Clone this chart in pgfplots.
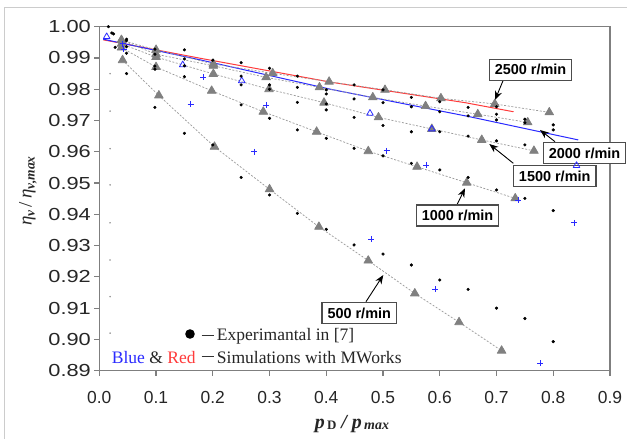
\documentclass[border=0pt]{standalone}
\usepackage{pgfplots}
\pgfplotsset{compat=1.18}
\usepackage{graphicx}
\usepackage{fontspec}
\setmainfont{Liberation Serif}
\newfontfamily\arial{Liberation Sans}
\usetikzlibrary{arrows.meta}
\definecolor{axgray}{HTML}{7F7F7F}
\definecolor{trigray}{HTML}{808080}
\definecolor{dotline}{HTML}{9A9A9A}
\definecolor{simblue}{HTML}{2A2AFF}
\definecolor{simred}{HTML}{FF3B3B}
\begin{document}
\begin{tikzpicture}
\useasboundingbox (0bp,0bp) rectangle (627bp,439bp);
\fill[white] (0bp,0bp) rectangle (627bp,439bp);
\draw[black!20, line width=0.8bp] (4bp,0bp) -- (4bp,432bp) -- (627bp,432bp);
\begin{axis}[
  at={(99.3bp,68.3bp)}, anchor=south west,
  width=510.7bp, height=344bp, scale only axis,
  xmin=0, xmax=0.9, ymin=0.89, ymax=1.0,
  clip=false,
  axis line style={axgray, line width=1.2bp},
  tick style={axgray, line width=1.2bp},
  major tick length=5bp, tick align=outside,
  xtick pos=left, ytick pos=left,
  xtick={0,0.1,0.2,0.3,0.4,0.5,0.6,0.7,0.8,0.9},
  ytick={0.89,0.90,0.91,0.92,0.93,0.94,0.95,0.96,0.97,0.98,0.99,1.00},
  xticklabels={}, yticklabels={},
  every axis plot/.append style={line join=round},
]
% simulation lines
\addplot[simred, line width=1bp, no marks] coordinates {(0.007,0.9958) (0.178,0.9899) (0.41,0.9822) (0.645,0.9757) (0.73,0.9728)};
\addplot[simblue, line width=1bp, no marks] coordinates {(0.007,0.9960) (0.1775,0.9894) (0.41,0.9799) (0.653,0.9712) (0.844,0.9638)};
% gray triangles with dotted lines
\pgfplotsset{tri/.style={dotline, line width=0.7bp, dash pattern=on 2bp off 1.6bp, mark=triangle*, mark size=5bp, mark options={solid, fill=trigray, draw=trigray}}}
\addplot[tri] coordinates {(0.039,0.9957) (0.100,0.9926) (0.201,0.9881) (0.3056,0.9851) (0.405,0.9824) (0.5035,0.9798) (0.602,0.9771) (0.697,0.9753) (0.793,0.9726)};
\addplot[tri] coordinates {(0.039,0.9957) (0.100,0.9912) (0.201,0.9875) (0.294,0.9838) (0.388,0.9806) (0.482,0.9774) (0.575,0.9746) (0.667,0.9720) (0.755,0.9694)};
\addplot[tri] coordinates {(0.039,0.9945) (0.100,0.9903) (0.201,0.9849) (0.299,0.9800) (0.396,0.9757) (0.492,0.9710) (0.586,0.9673) (0.674,0.9638) (0.766,0.9603)};
\addplot[tri] coordinates {(0.039,0.9933) (0.100,0.9871) (0.198,0.9795) (0.289,0.9728) (0.383,0.9664) (0.474,0.9602) (0.560,0.9552) (0.6475,0.9501) (0.733,0.9451)};
\addplot[tri] coordinates {(0.041,0.9893) (0.105,0.9780) (0.203,0.9616) (0.300,0.9480) (0.387,0.9360) (0.474,0.9252) (0.556,0.9147) (0.634,0.9055) (0.709,0.8964)};
% blue simulation markers
\addplot[only marks, simblue, mark=triangle, mark size=3.8bp, mark options={line width=0.8bp}] coordinates {(0.013,0.9968) (0.147,0.9878) (0.251,0.9827) (0.477,0.9723) (0.586,0.9673) (0.841,0.9556)};
\addplot[only marks, simblue, mark=+, mark size=3bp, mark options={line width=0.8bp}] coordinates {(0.041,0.9945) (0.043,0.9928) (0.161,0.9753) (0.183,0.9838) (0.273,0.9600) (0.294,0.9749) (0.479,0.9320) (0.5065,0.9603) (0.576,0.9558) (0.592,0.9160) (0.738,0.9446) (0.777,0.8924) (0.837,0.9373)};
% experimental black dots
\addplot[only marks, black, mark=*, mark size=1.4bp] coordinates {
(0.016,1.000) (0.022,0.998) (0.025,0.9977) (0.028,0.9934)
(0.048,0.996) (0.048,0.9955) (0.048,0.9936) (0.048,0.9915) (0.048,0.985)
(0.098,0.9928) (0.098,0.9912) (0.098,0.9874) (0.098,0.9864) (0.098,0.9742)
(0.150,0.9926) (0.150,0.9897) (0.150,0.9875) (0.150,0.9840) (0.150,0.9659)
(0.200,0.9893) (0.200,0.9622)
(0.250,0.9885) (0.250,0.9842) (0.250,0.9814) (0.250,0.9750) (0.250,0.9518)
(0.300,0.9867) (0.300,0.9814) (0.300,0.9800) (0.300,0.9707) (0.300,0.9462)
(0.349,0.9842) (0.349,0.9806) (0.349,0.9758) (0.349,0.9670) (0.349,0.9403)
(0.400,0.9798) (0.400,0.9785) (0.400,0.9753) (0.400,0.9734) (0.400,0.9643) (0.400,0.9352)
(0.449,0.9814) (0.449,0.9769) (0.449,0.9710) (0.449,0.9611) (0.449,0.9302)
(0.500,0.9798) (0.500,0.9757) (0.500,0.9684) (0.500,0.9587) (0.500,0.9273)
(0.550,0.9774) (0.550,0.9744) (0.550,0.9664) (0.550,0.9563) (0.550,0.9238)
(0.600,0.9760) (0.600,0.9728) (0.600,0.9664) (0.600,0.9542) (0.600,0.9190)
(0.650,0.9742) (0.650,0.9715) (0.650,0.9650) (0.650,0.9518) (0.650,0.9160)
(0.700,0.9744) (0.700,0.9720) (0.700,0.9702) (0.700,0.9635) (0.700,0.9478) (0.700,0.9100)
(0.750,0.9704) (0.750,0.9693) (0.750,0.9622) (0.750,0.9451) (0.750,0.9067)
(0.800,0.9686) (0.800,0.9670) (0.800,0.9412) (0.800,0.8993)
};
% faint tiny dots
\addplot[only marks, black!40, mark=*, mark size=0.6bp] coordinates {(0.019,0.985) (0.019,0.973) (0.019,0.961) (0.019,0.9494) (0.019,0.9373) (0.019,0.9254) (0.019,0.9137) (0.019,0.902)};
% tick labels
\tikzset{xtl/.style={anchor=center, inner sep=0pt, yshift=-27bp, text=black!85, font=\arial\fontsize{17.5}{18}\selectfont},
ytl/.style={anchor=east, inner sep=0pt, xshift=-8.3bp, text=black!85, font=\arial\fontsize{17.5}{18}\selectfont}}
\node[xtl] at (axis cs:0.0,0.89) {0.0};
\node[xtl] at (axis cs:0.1,0.89) {0.1};
\node[xtl] at (axis cs:0.2,0.89) {0.2};
\node[xtl] at (axis cs:0.3,0.89) {0.3};
\node[xtl] at (axis cs:0.4,0.89) {0.4};
\node[xtl] at (axis cs:0.5,0.89) {0.5};
\node[xtl] at (axis cs:0.6,0.89) {0.6};
\node[xtl] at (axis cs:0.7,0.89) {0.7};
\node[xtl] at (axis cs:0.8,0.89) {0.8};
\node[xtl] at (axis cs:0.9,0.89) {0.9};
\node[ytl] at (axis cs:0,0.89) {\scalebox{1.25}[1]{0.89}};
\node[ytl] at (axis cs:0,0.90) {\scalebox{1.25}[1]{0.90}};
\node[ytl] at (axis cs:0,0.91) {\scalebox{1.25}[1]{0.91}};
\node[ytl] at (axis cs:0,0.92) {\scalebox{1.25}[1]{0.92}};
\node[ytl] at (axis cs:0,0.93) {\scalebox{1.25}[1]{0.93}};
\node[ytl] at (axis cs:0,0.94) {\scalebox{1.25}[1]{0.94}};
\node[ytl] at (axis cs:0,0.95) {\scalebox{1.25}[1]{0.95}};
\node[ytl] at (axis cs:0,0.96) {\scalebox{1.25}[1]{0.96}};
\node[ytl] at (axis cs:0,0.97) {\scalebox{1.25}[1]{0.97}};
\node[ytl] at (axis cs:0,0.98) {\scalebox{1.25}[1]{0.98}};
\node[ytl] at (axis cs:0,0.99) {\scalebox{1.25}[1]{0.99}};
\node[ytl] at (axis cs:0,1.00) {\scalebox{1.25}[1]{1.00}};
% annotations
\tikzset{box/.style={draw=black!70, fill=white, line width=1.2bp, font=\arial\bfseries\fontsize{14.5}{14.5}\selectfont, inner xsep=5.5bp, inner ysep=4bp, minimum height=21bp},
arr/.style={black, line width=0.9bp, -{Stealth[length=9bp,width=7bp]}}}
\draw[arr] (axis cs:0.712,0.98296) -- (axis cs:0.6974,0.97656);
\draw[arr] (axis cs:0.8031,0.96323) -- (axis cs:0.7767,0.96697);
\draw[arr] (axis cs:0.7296,0.95632) -- (axis cs:0.6873,0.96249);
\draw[arr] (axis cs:0.6310,0.94331) -- (axis cs:0.6445,0.94833);
\draw[arr] (axis cs:0.4700,0.91207) -- (axis cs:0.5005,0.9206);
\node[box] at (axis cs:0.760,0.98625) {2500 r/min};
\node[box] at (axis cs:0.8551,0.95952) {2000 r/min};
\node[box] at (axis cs:0.8026,0.95216) {1500 r/min};
\node[box] at (axis cs:0.6313,0.93963) {1000 r/min};
\node[box] at (axis cs:0.4581,0.90845) {500 r/min};
\end{axis}
% legend text
\fill[black] (190bp,105bp) circle (4.8bp);
\draw[black!80, line width=0.8bp] (201.5bp,104bp) -- (213.5bp,104bp);
\node[anchor=base west, inner sep=0pt, font=\fontsize{17.6}{20}\selectfont, text=black!85] at (216.7bp,98.3bp) {Experimantal in [7]};
\node[anchor=base west, inner sep=0pt, font=\fontsize{17.6}{20}\selectfont, text=black!85] at (111.7bp,75.7bp) {\textcolor{simblue}{Blue} \& \textcolor{simred}{Red}};
\draw[black!80, line width=0.8bp] (201.5bp,82.5bp) -- (213.5bp,82.5bp);
\node[anchor=base west, inner sep=0pt, font=\fontsize{17.6}{20}\selectfont, text=black!85] at (216.7bp,75.7bp) {Simulations with MWorks};
% axis labels
\node[rotate=90, inner sep=0pt, text=black!85] at (28bp,248bp) {\fontsize{19}{19}\selectfont\textit{η}{\fontsize{13.5}{13.5}\selectfont\bfseries\itshape\raisebox{-3bp}{v}}\,/\,\textit{η}{\fontsize{13.5}{13.5}\selectfont\bfseries\itshape\raisebox{-3bp}{v,max}}};
\node[anchor=base, inner sep=0pt, text=black!85] at (352bp,11bp) {\fontsize{20}{20}\selectfont\bfseries\itshape p{\fontsize{13}{13}\selectfont\upshape\raisebox{-1bp}{\,D}}\ /\ p{\fontsize{14}{14}\selectfont\raisebox{-1bp}{\,max}}};
\end{tikzpicture}
\end{document}
